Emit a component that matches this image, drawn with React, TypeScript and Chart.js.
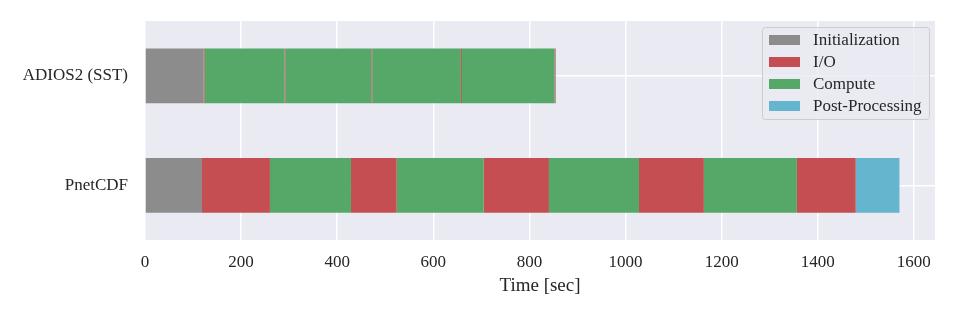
import React, { useEffect, useRef } from "react";
import { Chart, registerables } from "chart.js";

Chart.register(...registerables);

// ---- data ----
const categories = ["ADIOS2 (SST)", "PnetCDF"];
const phaseNames = ["Initialization", "I/O", "Compute", "Post-Processing"];
const phaseColors = ["#8C8C8C", "#C44E52", "#55A868", "#64B5CD"];

const adiosPhases = ["Initialization", "I/O", "Compute", "I/O", "Compute", "I/O", "Compute", "I/O", "Compute", "I/O"];
const adiosDurations = [122, 2, 166.5, 2, 178.5, 2, 184.5, 2, 193, 2];

const pnetPhases = ["Initialization", "I/O", "Compute", "I/O", "Compute", "I/O", "Compute", "I/O", "Compute", "I/O", "Post-Processing"];
const pnetDurations = [118.6, 141.4, 168.6, 95.1, 181, 135.9, 187.4, 135, 193.6, 122.4, 91];

const xMin = 0;
const xMax = 1644;
const xStep = 200;
const xTitle = "Time [sec]";

const FONT = "'Liberation Serif', 'DejaVu Serif', serif";
const TEXT = "#262626";
const BG = "#EAEAF2";

function colorOf(phase?: string) {
  if (!phase) return "rgba(0,0,0,0)";
  return phaseColors[phaseNames.indexOf(phase)];
}

export default function App() {
  const ref = useRef<HTMLCanvasElement>(null);

  useEffect(() => {
    document.body.style.margin = "0";
    const canvas = ref.current!;
    const n = Math.max(adiosDurations.length, pnetDurations.length);
    const datasets: any[] = [];
    for (let i = 0; i < n; i++) {
      datasets.push({
        label: "seg" + i,
        data: [adiosDurations[i] ?? null, pnetDurations[i] ?? null],
        backgroundColor: [colorOf(adiosPhases[i]), colorOf(pnetPhases[i])],
        borderWidth: 0,
        categoryPercentage: 1,
        barPercentage: 0.5,
      });
    }

    const bgPlugin = {
      id: "areaBg",
      beforeDraw(chart: any) {
        const { ctx, chartArea } = chart;
        ctx.save();
        ctx.fillStyle = BG;
        ctx.fillRect(chartArea.left, chartArea.top, chartArea.right - chartArea.left, chartArea.bottom - chartArea.top);
        ctx.restore();
      },
    };

    const legendPlugin = {
      id: "boxLegend",
      afterDatasetsDraw(chart: any) {
        const { ctx, chartArea } = chart;
        ctx.save();
        ctx.font = `17px ${FONT}`;
        const w = 167;
        const h = 92;
        const right = chartArea.right - 6;
        const left = right - w;
        const top = chartArea.top + 6;
        ctx.beginPath();
        (ctx as any).roundRect(left + 0.5, top + 0.5, w, h, 3);
        ctx.fillStyle = "rgba(234,234,242,0.8)";
        ctx.fill();
        ctx.strokeStyle = "#CCCCCC";
        ctx.lineWidth = 1;
        ctx.stroke();
        phaseNames.forEach((p, i) => {
          const cy = top + 13 + i * 22;
          ctx.fillStyle = phaseColors[i];
          ctx.fillRect(left + 7, cy - 5, 31, 10);
          ctx.fillStyle = TEXT;
          ctx.textBaseline = "middle";
          ctx.textAlign = "left";
          ctx.fillText(p, left + 51, cy + 1);
        });
        ctx.restore();
      },
    };

    const chart = new Chart(canvas, {
      type: "bar",
      data: { labels: categories, datasets },
      options: {
        indexAxis: "y",
        responsive: false,
        animation: false,
        layout: { padding: { top: 21, right: 23, left: 0, bottom: 0 } },
        plugins: { legend: { display: false }, tooltip: { enabled: false } },
        scales: {
          x: {
            type: "linear",
            stacked: true,
            min: xMin,
            max: xMax,
            ticks: {
              stepSize: xStep,
              includeBounds: false,
              font: { family: FONT, size: 17 },
              color: TEXT,
              padding: 12,
              callback: (v: any) => String(v),
            },
            grid: { color: "#FFFFFF", lineWidth: 1.5, drawTicks: false },
            border: { display: false },
            title: { display: true, text: xTitle, font: { family: FONT, size: 19 }, color: TEXT, padding: { top: 0, bottom: 20 } },
            afterFit: (s: any) => {
              s.height = 77;
            },
          },
          y: {
            stacked: true,
            ticks: { font: { family: FONT, size: 17 }, color: TEXT, padding: 0 },
            grid: {
              color: "#FFFFFF",
              lineWidth: 1.5,
              offset: false,
              drawTicks: true,
              tickLength: 17,
              tickColor: "rgba(0,0,0,0)",
            },
            border: { display: false },
            afterFit: (s: any) => {
              s.width = 145;
            },
          },
        },
      } as any,
      plugins: [bgPlugin, legendPlugin],
    });
    return () => chart.destroy();
  }, []);

  return (
    <div style={{ width: 958, height: 317 }}>
      <canvas ref={ref} width={958} height={317} style={{ display: "block" }} />
    </div>
  );
}
